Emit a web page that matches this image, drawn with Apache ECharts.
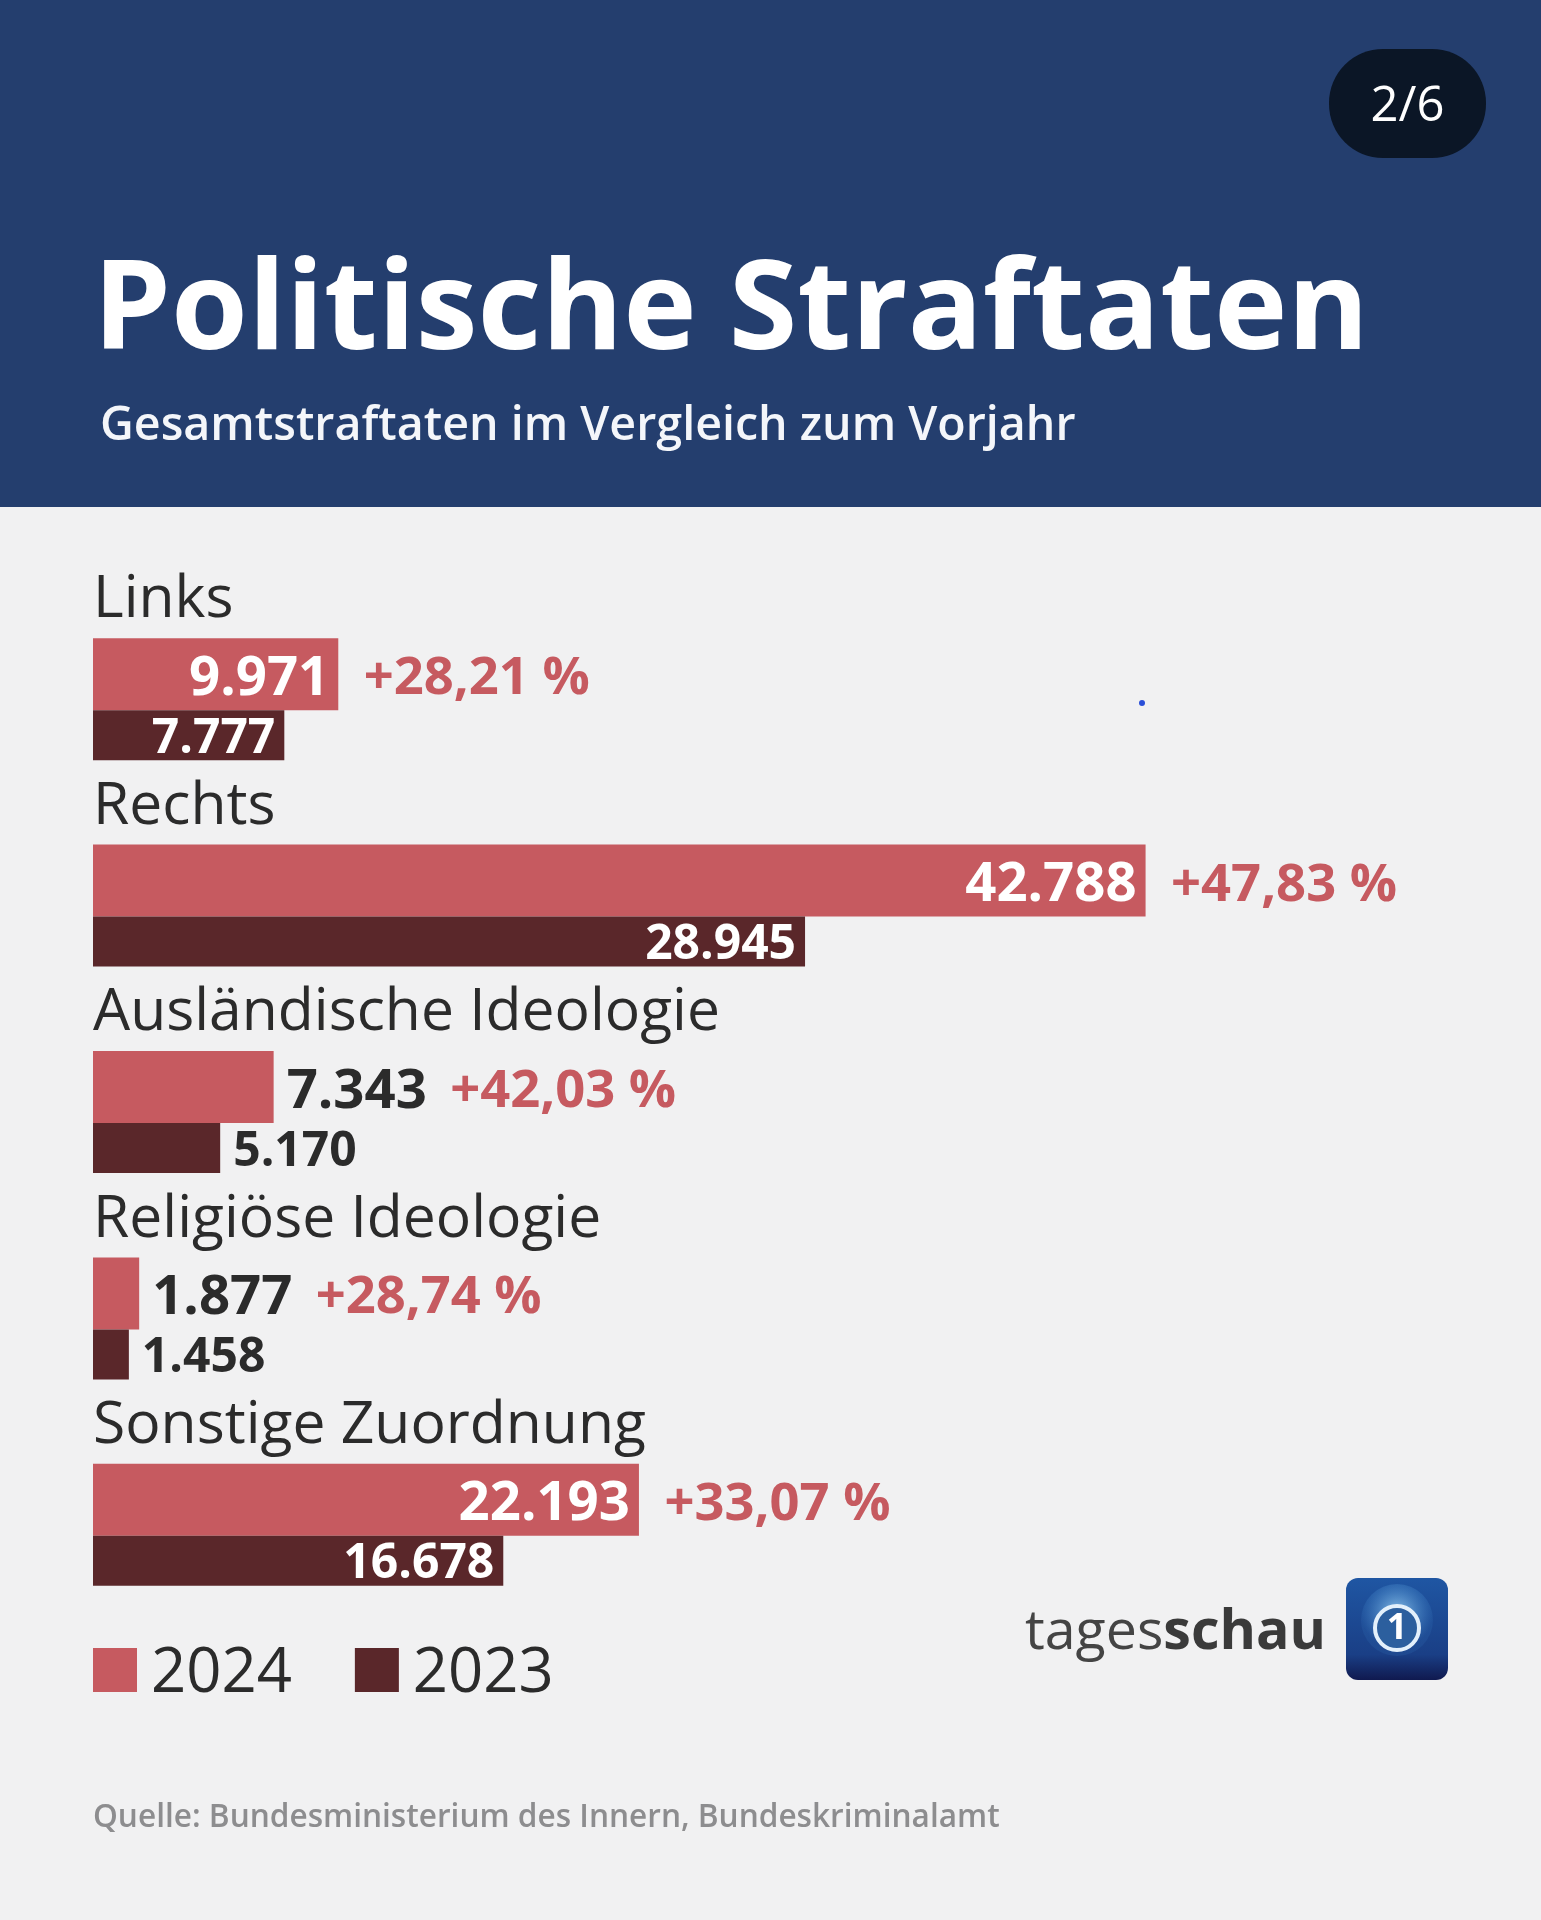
<!DOCTYPE html>
<html lang="de">
<head>
<meta charset="utf-8">
<title>Politische Straftaten</title>
<style>
  html, body { margin: 0; padding: 0; background: #f1f1f2; }
  #chart { width: 1541px; height: 1920px; }
</style>
</head>
<body>
<div id="chart"></div>
<script src="https://cdn.jsdelivr.net/npm/echarts@6/dist/echarts.min.js"></script>
<script>
// Chart data
var categories = ['Links', 'Rechts', 'Ausländische Ideologie', 'Religiöse Ideologie', 'Sonstige Zuordnung'];
var values2024 = [9971, 42788, 7343, 1877, 22193];
var values2023 = [7777, 28945, 5170, 1458, 16678];
var changes = ['+28,21 %', '+47,83 %', '+42,03 %', '+28,74 %', '+33,07 %'];

var fontName = '"Open Sans", sans-serif';
var red = '#c65a60';
var darkRed = '#5a272a';
var textDark = '#2b2b2b';

// Bars longer than this carry their number inside
var insideFrom = 7500;

var chartEl = document.getElementById('chart');
var chart = echarts.init(chartEl);

// German thousands separator
var formatNumber = function(v) {
    return String(v).replace(/\B(?=(\d{3})+$)/g, '.');
};

// Value label sits inside long bars, dark and outside on short ones
var barData = function(values, fontSize, shiftY) {
    return values.map(function(v) {
        var inside = v >= insideFrom;
        return {
            value: v,
            label: {
                position: inside ? 'insideRight' : 'right',
                distance: inside ? 9 : 13,
                offset: [0, shiftY],
                color: inside ? '#ffffff' : textDark,
                fontSize: fontSize
            }
        };
    });
};

chart.setOption({
    animation: false,
    backgroundColor: '#f1f1f2',
    textStyle: { fontFamily: fontName },

    // Header text, source and wordmark
    title: [
        {
            text: 'Politische Straftaten',
            left: 88, top: 247,
            textStyle: { color: '#ffffff', fontSize: 124.3, fontWeight: 700, fontFamily: fontName }
        },
        {
            text: 'Gesamtstraftaten im Vergleich zum Vorjahr',
            left: 95, top: 398,
            textStyle: { color: '#f4f6fa', fontSize: 46.6, fontWeight: 600, fontFamily: fontName }
        },
        {
            text: 'Quelle: Bundesministerium des Innern, Bundeskriminalamt',
            left: 88, top: 1797,
            textStyle: { color: '#8d8d8f', fontSize: 31.6, fontWeight: 600, fontFamily: fontName }
        },
        {
            text: '{a|tages}{b|schau}',
            left: 1020, top: 1600,
            textStyle: {
                rich: {
                    a: { color: '#444444', fontSize: 55.5, fontWeight: 400, fontFamily: fontName },
                    b: { color: '#3a3a3a', fontSize: 55.5, fontWeight: 700, fontFamily: fontName }
                }
            }
        }
    ],

    legend: {
        data: ['2024', '2023'],
        left: 93, top: 1643,
        padding: 0,
        itemWidth: 44,
        itemHeight: 44,
        itemGap: 63,
        icon: 'rect',
        formatter: '{t|{name}}',
        textStyle: {
            rich: {
                t: { color: textDark, fontSize: 61.6, fontFamily: fontName, padding: [8, 0, 0, 9] }
            }
        }
    },

    grid: { left: 93, top: 596, width: 1230, height: 1032 },

    xAxis: { type: 'value', min: 0, max: 50000, show: false },

    yAxis: {
        type: 'category',
        data: categories,
        inverse: true,
        axisLine: { show: false },
        axisTick: { show: false },
        splitLine: { show: false },
        axisLabel: {
            inside: true,
            margin: 0,
            align: 'left',
            verticalAlign: 'bottom',
            padding: [0, 0, 69, 0],
            color: textDark,
            fontSize: 58.8,
            fontFamily: fontName
        }
    },

    series: [
        {
            name: '2024',
            type: 'bar',
            barWidth: 72,
            barGap: 0,
            itemStyle: { color: red },
            label: { show: true, fontWeight: 700, fontFamily: fontName, formatter: function(p) { return formatNumber(p.value); } },
            data: barData(values2024, 54.5, 5)
        },
        {
            name: '2023',
            type: 'bar',
            barWidth: 50,
            barGap: 0,
            itemStyle: { color: darkRed },
            label: { show: true, fontWeight: 700, fontFamily: fontName, formatter: function(p) { return formatNumber(p.value); } },
            data: barData(values2023, 48, 4)
        },
        // Percent change, placed behind the 2024 bar and its number
        {
            name: 'Veränderung',
            type: 'scatter',
            symbolSize: 1,
            itemStyle: { color: 'transparent', opacity: 1 },
            silent: true,
            label: {
                show: true,
                position: 'right',
                color: red,
                fontSize: 52.5,
                fontWeight: 700,
                fontFamily: fontName,
                formatter: function(p) { return changes[p.dataIndex]; }
            },
            data: values2024.map(function(v, i) {
                return {
                    value: [v, i],
                    label: { offset: [v >= insideFrom ? 20 : 171, -20] }
                };
            })
        }
    ],

    graphic: [
        // Header band and page counter
        { type: 'rect', z: -1, shape: { x: 0, y: 0, width: 1541, height: 507 }, style: { fill: '#243e6e' } },
        { type: 'rect', z: 1, shape: { x: 1329, y: 49, width: 157, height: 109, r: 54 }, style: { fill: '#0b1626' } },
        {
            type: 'text', z: 2, x: 1407.5, y: 107,
            style: { text: '2/6', fill: '#ffffff', fontSize: 49, fontFamily: fontName, align: 'center', verticalAlign: 'middle' }
        },
        // Stray blue pixel in the picture
        { type: 'circle', shape: { cx: 1142, cy: 703, r: 3 }, style: { fill: '#2a4fd8' } },
        // Tagesschau icon
        {
            type: 'rect', shape: { x: 1346, y: 1578, width: 102, height: 102, r: 12 },
            style: {
                fill: {
                    type: 'linear', x: 0, y: 0, x2: 0, y2: 1,
                    colorStops: [
                        { offset: 0, color: '#1f56a3' },
                        { offset: 0.75, color: '#1a3f86' },
                        { offset: 1, color: '#10194f' }
                    ]
                }
            }
        },
        {
            type: 'circle', shape: { cx: 1397, cy: 1620, r: 36 },
            style: {
                fill: {
                    type: 'radial', x: 0.5, y: 0.4, r: 0.5,
                    colorStops: [
                        { offset: 0, color: '#8fc4ea' },
                        { offset: 1, color: 'rgba(60,130,200,0.15)' }
                    ]
                }
            }
        },
        { type: 'circle', shape: { cx: 1397, cy: 1628, r: 22 }, style: { fill: '#2c5f9e', stroke: '#e3f0fb', lineWidth: 4 } },
        {
            type: 'text', x: 1397, y: 1629,
            style: { text: '1', fill: '#ffffff', fontSize: 36, fontWeight: 700, fontFamily: fontName, align: 'center', verticalAlign: 'middle' }
        }
    ]
});

window.addEventListener('resize', function() {
    chart.resize();
});
</script>
</body>
</html>
